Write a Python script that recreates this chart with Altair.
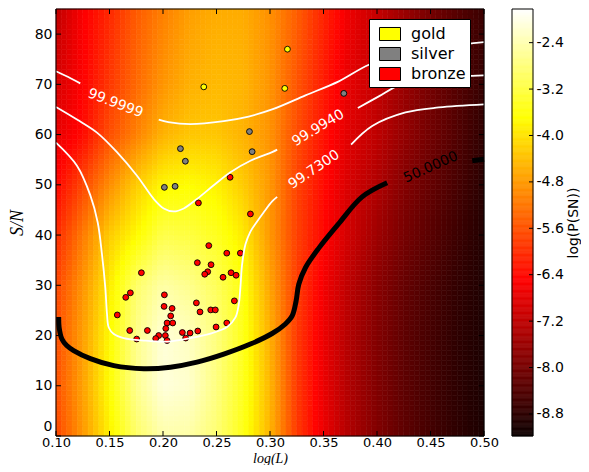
import numpy as np
import pandas as pd
import altair as alt

alt.data_transformers.disable_max_rows()

# ---------------- data ----------------
X_TICKS = [0.10, 0.15, 0.20, 0.25, 0.30, 0.35, 0.40, 0.45, 0.50]
Y_TICKS = [0, 10, 20, 30, 40, 50, 60, 70, 80]
CB_TICKS = [-8.8, -8.0, -7.2, -6.4, -5.6, -4.8, -4.0, -3.2, -2.4]

GRID_X = [0.10, 0.125, 0.15, 0.175, 0.20, 0.225, 0.25, 0.275, 0.30,
          0.325, 0.35, 0.375, 0.40, 0.425, 0.45, 0.475, 0.50]
GRID_Y = [0, 10, 20, 30, 40, 50, 60, 70, 85]
ROW_Y0 = [-5.74, -4.84, -3.86, -2.94, -2.44, -2.47, -2.85, -3.50, -4.50, -5.85, -6.70, -7.38, -7.88, -8.26, -8.55, -8.80, -9.00]
ROW_Y10 = [-5.62, -4.73, -3.70, -2.66, -2.08, -2.19, -2.75, -3.46, -4.47, -5.85, -6.70, -7.38, -7.88, -8.26, -8.55, -8.80, -9.00]
ROW_Y20 = [-5.65, -4.76, -3.75, -2.70, -2.12, -2.30, -2.78, -3.50, -4.55, -5.85, -6.68, -7.35, -7.86, -8.25, -8.54, -8.79, -8.99]
ROW_Y30 = [-5.74, -4.87, -3.91, -2.94, -2.47, -2.66, -3.04, -3.60, -4.67, -5.82, -6.60, -7.25, -7.78, -8.18, -8.48, -8.75, -8.96]
ROW_Y40 = [-6.05, -5.15, -4.25, -3.75, -3.13, -3.22, -3.46, -3.90, -4.81, -5.78, -6.42, -7.02, -7.55, -7.98, -8.32, -8.63, -8.92]
ROW_Y50 = [-6.45, -5.74, -4.95, -4.25, -3.77, -3.70, -3.83, -4.25, -4.81, -5.75, -6.38, -6.95, -7.35, -7.84, -8.19, -8.51, -8.86]
ROW_Y60 = [-6.76, -6.40, -5.65, -5.09, -4.53, -4.31, -4.31, -4.53, -4.87, -5.65, -6.30, -6.85, -7.20, -7.65, -8.05, -8.40, -8.78]
ROW_Y70 = [-6.95, -6.50, -5.90, -5.35, -4.85, -4.55, -4.45, -4.50, -4.85, -5.55, -6.20, -6.78, -7.15, -7.60, -8.02, -8.37, -8.72]
ROW_Y85 = [-7.20, -6.55, -6.07, -5.50, -5.10, -4.75, -4.60, -4.60, -4.90, -5.45, -6.10, -6.70, -7.12, -7.58, -8.00, -8.35, -8.65]
FIELD_ROWS = [ROW_Y0, ROW_Y10, ROW_Y20, ROW_Y30, ROW_Y40, ROW_Y50, ROW_Y60, ROW_Y70, ROW_Y85]

# measured objects
MEDALS = ["gold", "silver", "bronze"]
MEDAL_COLORS = ["#ffff00", "#808080", "#ff0000"]
GOLD_X = [0.2381, 0.3163, 0.3138]
GOLD_Y = [69.5, 77.0, 69.2]
SILVER_X = [0.3690, 0.2808, 0.2833, 0.2163, 0.2209, 0.2013, 0.2113]
SILVER_Y = [68.2, 60.6, 56.6, 57.2, 54.7, 49.5, 49.7]
BRONZE_X = [0.2627, 0.2331, 0.2817, 0.2428, 0.2596, 0.2723, 0.2321, 0.2449, 0.2418, 0.2390,
            0.2636, 0.2683, 0.2561, 0.1798, 0.1695, 0.1652, 0.2013, 0.2667, 0.2312, 0.2010,
            0.2085, 0.2346, 0.2446, 0.2489, 0.1573, 0.2072, 0.2038, 0.2091, 0.2026, 0.2596,
            0.2496, 0.1689, 0.1854, 0.1960, 0.2022, 0.2181, 0.2253, 0.2325, 0.1754, 0.1932,
            0.2038, 0.2212]
BRONZE_Y = [51.5, 46.4, 44.2, 37.9, 36.4, 36.4, 34.5, 34.1, 32.7, 32.2,
            32.5, 32.0, 31.6, 32.5, 28.5, 27.6, 28.1, 26.9, 26.5, 25.8,
            25.4, 24.7, 25.1, 25.1, 24.1, 23.9, 22.5, 22.5, 21.4, 22.5,
            21.7, 21.0, 21.0, 20.0, 20.0, 20.6, 20.5, 20.9, 19.3, 19.4,
            19.0, 19.5]

# contour lines (segments broken where the labels sit)
C9999_A_X = [0.100, 0.111, 0.1227]
C9999_A_Y = [72.6, 71.5, 70.2]
C9999_B_X = [0.196, 0.205, 0.2256, 0.2568, 0.280, 0.302, 0.3331, 0.3643, 0.3924, 0.430, 0.460, 0.490, 0.500]
C9999_B_Y = [63.0, 62.5, 62.1, 62.7, 63.6, 65.0, 67.8, 70.6, 73.9, 76.5, 77.6, 78.2, 78.4]
C9994_A_X = [0.100, 0.1196, 0.1383, 0.157, 0.1757, 0.1913, 0.2007, 0.210, 0.2194, 0.2318, 0.2474, 0.263, 0.2817, 0.302, 0.3067]
C9994_A_Y = [65.5, 63.0, 60.4, 56.5, 51.8, 47.2, 45.3, 44.7, 45.3, 47.2, 49.9, 52.5, 54.8, 56.5, 57.0]
C9994_B_X = [0.3821, 0.4017, 0.4204, 0.450, 0.480, 0.500]
C9994_B_Y = [65.3, 67.6, 69.8, 71.0, 71.6, 71.8]
C9973_A_X = [0.100, 0.1196, 0.1321, 0.139, 0.143, 0.1461, 0.1477, 0.1493, 0.154, 0.1633, 0.182, 0.2038,
             0.2256, 0.2443, 0.2599, 0.2677, 0.2708, 0.2723, 0.2739, 0.277, 0.2817, 0.2873, 0.294, 0.302, 0.3067]
C9973_A_Y = [58.4, 53.8, 47.9, 42.5, 36.1, 29.5, 24.2, 21.6, 20.3, 19.5, 19.0, 18.8,
             19.5, 20.4, 21.7, 23.6, 26.2, 29.5, 34.1, 38.1, 40.7, 42.5, 44.5, 46.7, 47.6]
C9973_B_X = [0.3758, 0.3955, 0.4266, 0.4578, 0.500]
C9973_B_Y = [58.0, 61.7, 64.4, 65.4, 66.0]
C50_A_X = [0.1025, 0.1030, 0.1055, 0.110, 0.1165, 0.1321, 0.154, 0.182, 0.2069, 0.2318, 0.2568,
           0.2817, 0.302, 0.3144, 0.3207, 0.3244, 0.3269, 0.3331, 0.3456, 0.3643, 0.3861, 0.4095]
C50_A_Y = [23.7, 21.5, 19.3, 18.0, 17.0, 15.4, 14.0, 13.4, 13.7, 14.7, 16.3,
           18.3, 20.4, 22.3, 23.9, 26.9, 30.2, 33.5, 37.4, 42.3, 47.6, 50.4]
C50_B_X = [0.489, 0.500]
C50_B_Y = [54.8, 55.1]

LABEL_TEXT = ["99.9999", "99.9940", "99.7300", "50.0000"]
LABEL_X = [0.1555, 0.345, 0.3412, 0.4503]
LABEL_Y = [66.2, 61.3, 53.0, 53.5]
LABEL_ANGLE = [21, 329, 326, 336]
LABEL_COLOR = ["white", "white", "white", "black"]

# ---------------- tables ----------------
W, H = 428, 427
VMIN, VMAX = -9.18, -1.82
hot = alt.Scale(domain=[VMIN, -6.494, -3.689, VMAX],
                range=["#0b0000", "#ff0000", "#ffff00", "#ffffff"],
                interpolate="rgb", clamp=True)

# smooth display of the sampled field (image rendering)
gx, gy, F = np.array(GRID_X), np.array(GRID_Y), np.array(FIELD_ROWS)
ex = np.linspace(0.10, 0.50, 81)
ey = np.linspace(0, 85, 86)
cx = (ex[:-1] + ex[1:]) / 2
cy = (ey[:-1] + ey[1:]) / 2
along_x = np.array([np.interp(cx, gx, row) for row in F])
fine = np.array([np.interp(cy, gy, along_x[:, i]) for i in range(len(cx))]).T
heat_rows = []
for j in range(len(cy)):
    for i in range(len(cx)):
        heat_rows.append({"x": ex[i], "xe": ex[i + 1], "y": ey[j], "ye": ey[j + 1], "v": fine[j, i]})
heat_df = pd.DataFrame(heat_rows)

pts = []
for name, xs_, ys_ in [("gold", GOLD_X, GOLD_Y), ("silver", SILVER_X, SILVER_Y), ("bronze", BRONZE_X, BRONZE_Y)]:
    for a, b in zip(xs_, ys_):
        pts.append({"x": a, "y": b, "medal": name})
pts_df = pd.DataFrame(pts)


def seg_rows(segs):
    rows = []
    for sid, (sx, sy) in enumerate(segs):
        for k, (a, b) in enumerate(zip(sx, sy)):
            rows.append({"x": a, "y": b, "seg": sid, "i": k})
    return pd.DataFrame(rows)


white_df = seg_rows([(C9999_A_X, C9999_A_Y), (C9999_B_X, C9999_B_Y),
                     (C9994_A_X, C9994_A_Y), (C9994_B_X, C9994_B_Y),
                     (C9973_A_X, C9973_A_Y), (C9973_B_X, C9973_B_Y)])
black_df = seg_rows([(C50_A_X, C50_A_Y), (C50_B_X, C50_B_Y)])
lab_df = pd.DataFrame({"x": LABEL_X, "y": LABEL_Y, "t": LABEL_TEXT, "a": LABEL_ANGLE, "c": LABEL_COLOR})
xt_df = pd.DataFrame({"x": X_TICKS})
yt_df = pd.DataFrame({"y": Y_TICKS})
one_df = pd.DataFrame({"k": [0]})

# ---------------- main panel ----------------
xsc = alt.Scale(domain=[0.10, 0.50], nice=False, zero=False)
ysc = alt.Scale(domain=[0, 85], nice=False, zero=False)
x_axis = alt.Axis(values=X_TICKS, format=".2f", title="log(L)", tickSize=0, labelPadding=0,
                  labelFontSize=13,
                  domain=False, grid=False, labelFlush=False, labelOverlap=False,
                  titleFont="Liberation Serif", titleFontStyle="italic", titleFontWeight="normal",
                  titleFontSize=14, titlePadding=2)
y_axis = alt.Axis(values=Y_TICKS, format="d", title="S/N", tickSize=0, labelPadding=4,
                  labelBaseline={"condition": {"test": "datum.value === 0", "value": "bottom"},
                                 "value": "middle"},
                  labelOffset={"condition": {"test": "datum.value === 0", "value": -3},
                               "value": 0},
                  domain=False, grid=False, labelFlush=False, labelOverlap=False,
                  titleFont="Liberation Serif", titleFontStyle="italic", titleFontWeight="normal",
                  titleFontSize=18, titlePadding=8)
X = alt.X("x:Q", scale=xsc, axis=x_axis)
Y = alt.Y("y:Q", scale=ysc, axis=y_axis)

heat = alt.Chart(heat_df).mark_rect(strokeWidth=0.6).encode(
    x=X, x2="xe:Q", y=Y, y2="ye:Q",
    fill=alt.Fill("v:Q", scale=hot, legend=None),
    stroke=alt.Stroke("v:Q", scale=hot, legend=None),
)

points = alt.Chart(pts_df).mark_circle(size=34, opacity=1, stroke="black", strokeWidth=0.9).encode(
    x=X, y=Y,
    color=alt.Color("medal:N", scale=alt.Scale(domain=MEDALS, range=MEDAL_COLORS),
                    legend=alt.Legend(title=None, orient="none", legendX=313, legendY=10,
                                      symbolType="M-1,-0.62H1V0.62H-1Z", symbolSize=441,
                                      symbolStrokeColor="black", symbolStrokeWidth=1,
                                      symbolOffset=6, labelOffset=10, rowPadding=0,
                                      labelFont="DejaVu Sans", labelFontSize=16, labelColor="black",
                                      padding=4, fillColor="white", strokeColor="black",
                                      cornerRadius=0)),
)

white_lines = alt.Chart(white_df).mark_line(color="white", strokeWidth=1.8, interpolate="catmull-rom").encode(
    x=X, y=Y, detail="seg:N", order="i:Q")
black_lines = alt.Chart(black_df).mark_line(color="black", strokeWidth=5, interpolate="catmull-rom").encode(
    x=X, y=Y, detail="seg:N", order="i:Q")
labels = alt.Chart(lab_df).mark_text(font="DejaVu Sans", fontSize=14, align="center", baseline="middle").encode(
    x=X, y=Y, text="t:N", angle=alt.Angle("a:Q", scale=None), color=alt.Color("c:N", scale=None))

tick_bottom = alt.Chart(xt_df).mark_rule(color="black", strokeWidth=1).encode(
    x=X, y=alt.value(H), y2=alt.value(H - 5))
tick_top = alt.Chart(xt_df).mark_rule(color="black", strokeWidth=1).encode(
    x=X, y=alt.value(0), y2=alt.value(5))
tick_left = alt.Chart(yt_df).mark_rule(color="black", strokeWidth=1).encode(
    y=Y, x=alt.value(0), x2=alt.value(5))
tick_right = alt.Chart(yt_df).mark_rule(color="black", strokeWidth=1).encode(
    y=Y, x=alt.value(W), x2=alt.value(W - 5))
frame = alt.Chart(one_df).mark_rect(filled=False, stroke="black", strokeWidth=1).encode(
    x=alt.value(0), x2=alt.value(W), y=alt.value(0), y2=alt.value(H))

main = alt.layer(heat, points, white_lines, black_lines, labels,
                 tick_bottom, tick_top, tick_left, tick_right, frame).properties(width=W, height=H)

# ---------------- colour bar ----------------
lv = np.linspace(VMIN, VMAX, 369)
cb_df = pd.DataFrame({"lo": lv[:-1], "hi": lv[1:], "m": (lv[:-1] + lv[1:]) / 2})
cbt_df = pd.DataFrame({"t": CB_TICKS})
cbsc = alt.Scale(domain=[VMIN, VMAX], nice=False, zero=False)
cb_axis = alt.Axis(orient="right", values=CB_TICKS, tickSize=0, labelPadding=3,
                   labelExpr="replace(format(datum.value, '.1f'), '\u2212', '-')",
                   domain=False, grid=False, labelFlush=False, labelOverlap=False,
                   title="log(P(SN))", titleAngle=270, titleBaseline="top", titleFontSize=14,
                   titleFont="DejaVu Sans", titleFontWeight="normal", titlePadding=3)
cb_bar = alt.Chart(cb_df).mark_rect(strokeWidth=0.6).encode(
    y=alt.Y("lo:Q", scale=cbsc, axis=cb_axis), y2="hi:Q",
    fill=alt.Fill("m:Q", scale=hot, legend=None),
    stroke=alt.Stroke("m:Q", scale=hot, legend=None))
cb_ticks = alt.Chart(cbt_df).mark_rule(color="black", strokeWidth=1).encode(
    y=alt.Y("t:Q", scale=cbsc, axis=cb_axis), x=alt.value(17), x2=alt.value(21))
cb_frame = alt.Chart(one_df).mark_rect(filled=False, stroke="black", strokeWidth=1).encode(
    x=alt.value(0), x2=alt.value(21), y=alt.value(0), y2=alt.value(H))
cbar = alt.layer(cb_bar, cb_ticks, cb_frame).properties(width=21, height=H)

chart = alt.hconcat(main, cbar, spacing=28, bounds="flush").resolve_scale(
    fill="independent", stroke="independent", color="independent"
).properties(
    padding={"left": 0, "top": 0, "right": 0, "bottom": 0}
).configure_view(stroke=None).configure_axis(
    labelFont="DejaVu Sans", labelFontSize=14, labelColor="black", titleColor="black"
)

chart.save("out.html", embed_options={"renderer": "svg", "actions": False})
